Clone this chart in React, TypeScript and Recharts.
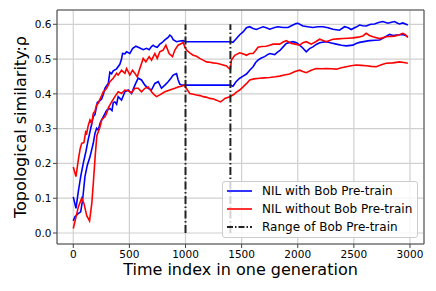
import React from 'react';
import { LineChart, Line, XAxis, YAxis, CartesianGrid, ReferenceLine, Legend } from 'recharts';

// readings: [time index, rho]
const withBobA: [number, number][] = [
  [0, 0.104], [24, 0.071], [45, 0.12], [66, 0.162], [89, 0.2], [113, 0.235], [134, 0.27], [155, 0.3],
  [178, 0.335], [193, 0.34], [214, 0.375], [235, 0.38], [253, 0.385], [270, 0.4], [282, 0.416], [300, 0.425],
  [312, 0.43], [326, 0.462], [342, 0.458], [356, 0.466], [386, 0.472], [415, 0.485], [430, 0.5], [439, 0.516],
  [460, 0.515], [475, 0.521], [504, 0.516], [528, 0.53], [558, 0.537], [593, 0.532], [623, 0.527], [653, 0.531],
  [676, 0.527], [697, 0.536], [712, 0.54], [727, 0.536], [748, 0.534], [771, 0.543], [790, 0.547], [816, 0.555],
  [845, 0.562], [860, 0.569], [875, 0.565], [890, 0.556], [920, 0.55], [950, 0.552], [979, 0.553], [1000, 0.55],
  [1400, 0.55], [1423, 0.548], [1454, 0.559], [1483, 0.57], [1513, 0.578], [1543, 0.59], [1572, 0.593],
  [1602, 0.588], [1632, 0.585], [1660, 0.589], [1691, 0.593], [1720, 0.59], [1750, 0.586], [1795, 0.591],
  [1824, 0.593], [1870, 0.591], [1913, 0.591], [1957, 0.598], [1985, 0.602], [2002, 0.603], [2046, 0.595],
  [2090, 0.593], [2135, 0.591], [2180, 0.593], [2224, 0.593], [2270, 0.59], [2313, 0.586], [2372, 0.583],
  [2417, 0.593], [2450, 0.59], [2476, 0.585], [2520, 0.592], [2551, 0.598], [2580, 0.596], [2610, 0.595],
  [2650, 0.6], [2684, 0.601], [2720, 0.605], [2758, 0.608], [2803, 0.603], [2835, 0.606], [2862, 0.608],
  [2890, 0.603], [2907, 0.601], [2936, 0.604], [2981, 0.598],
];

const withBobB: [number, number][] = [
  [0, 0.035], [15, 0.047], [40, 0.055], [66, 0.061], [83, 0.095], [104, 0.162], [125, 0.195], [149, 0.219],
  [178, 0.258], [193, 0.286], [208, 0.301], [223, 0.296], [238, 0.315], [253, 0.325], [267, 0.334], [297, 0.353],
  [326, 0.358], [345, 0.352], [356, 0.375], [371, 0.377], [386, 0.37], [400, 0.392], [430, 0.382], [460, 0.406],
  [490, 0.411], [519, 0.401], [549, 0.425], [578, 0.445], [608, 0.44], [638, 0.425], [667, 0.416], [697, 0.411],
  [727, 0.43], [757, 0.435], [786, 0.416], [816, 0.425], [845, 0.435], [870, 0.445], [890, 0.454], [920, 0.458],
  [935, 0.44], [949, 0.428], [970, 0.425], [1000, 0.425], [1400, 0.425], [1423, 0.422], [1450, 0.435],
  [1483, 0.445], [1513, 0.451], [1543, 0.457], [1572, 0.468], [1602, 0.478], [1625, 0.49], [1646, 0.497],
  [1675, 0.503], [1705, 0.507], [1728, 0.512], [1750, 0.516], [1795, 0.513], [1820, 0.52], [1839, 0.524],
  [1870, 0.535], [1898, 0.545], [1930, 0.548], [1957, 0.55], [1990, 0.547], [2017, 0.54], [2045, 0.532],
  [2076, 0.521], [2105, 0.53], [2135, 0.535], [2165, 0.542], [2195, 0.547], [2254, 0.55], [2300, 0.546],
  [2343, 0.543], [2390, 0.54], [2432, 0.538], [2491, 0.54], [2520, 0.545], [2551, 0.548], [2600, 0.551],
  [2640, 0.553], [2690, 0.554], [2729, 0.555], [2770, 0.562], [2818, 0.571], [2850, 0.568], [2877, 0.569],
  [2910, 0.57], [2936, 0.571], [2960, 0.568], [2981, 0.564],
];

const withoutBobA: [number, number][] = [
  [0, 0.19], [24, 0.162], [45, 0.21], [60, 0.24], [75, 0.258], [95, 0.26], [110, 0.29], [119, 0.286],
  [134, 0.31], [149, 0.325], [164, 0.315], [178, 0.344], [193, 0.35], [208, 0.368], [223, 0.373], [238, 0.385],
  [253, 0.395], [267, 0.406], [282, 0.41], [297, 0.416], [312, 0.425], [326, 0.435], [356, 0.445], [386, 0.459],
  [400, 0.454], [430, 0.468], [460, 0.459], [475, 0.473], [504, 0.454], [528, 0.468], [549, 0.459], [570, 0.449],
  [593, 0.473], [623, 0.502], [647, 0.492], [676, 0.507], [697, 0.497], [727, 0.516], [748, 0.502], [771, 0.521],
  [801, 0.526], [825, 0.54], [854, 0.516], [884, 0.507], [905, 0.526], [934, 0.54], [964, 0.545], [979, 0.548],
  [994, 0.535], [1009, 0.526], [1038, 0.518], [1068, 0.511], [1098, 0.508], [1127, 0.502], [1157, 0.497],
  [1187, 0.492], [1216, 0.491], [1246, 0.489], [1276, 0.488], [1305, 0.486], [1335, 0.483], [1365, 0.48],
  [1388, 0.473], [1400, 0.47], [1409, 0.497], [1439, 0.511], [1483, 0.518], [1513, 0.515], [1543, 0.511],
  [1572, 0.516], [1602, 0.516], [1625, 0.525], [1646, 0.534], [1680, 0.536], [1720, 0.537], [1750, 0.54],
  [1780, 0.543], [1839, 0.543], [1870, 0.549], [1898, 0.553], [1943, 0.545], [1980, 0.543], [2017, 0.54],
  [2046, 0.547], [2076, 0.55], [2120, 0.543], [2160, 0.55], [2195, 0.557], [2254, 0.55], [2313, 0.557],
  [2360, 0.558], [2402, 0.559], [2450, 0.56], [2491, 0.561], [2540, 0.563], [2580, 0.566], [2610, 0.574],
  [2640, 0.568], [2669, 0.564], [2729, 0.559], [2788, 0.564], [2862, 0.566], [2900, 0.569], [2936, 0.574],
  [2960, 0.57], [2981, 0.562],
];

const withoutBobB: [number, number][] = [
  [0, 0.013], [20, 0.04], [45, 0.075], [75, 0.1], [95, 0.085], [120, 0.05], [145, 0.035], [165, 0.085],
  [180, 0.15], [195, 0.22], [210, 0.28], [238, 0.305], [253, 0.325], [267, 0.33], [282, 0.334], [297, 0.344],
  [312, 0.36], [342, 0.377], [371, 0.392], [400, 0.406], [430, 0.401], [460, 0.411], [490, 0.409], [519, 0.403],
  [549, 0.416], [578, 0.416], [608, 0.406], [638, 0.416], [667, 0.42], [697, 0.406], [720, 0.398], [742, 0.392],
  [771, 0.397], [816, 0.406], [860, 0.411], [905, 0.416], [934, 0.42], [964, 0.422], [990, 0.425], [1003, 0.418],
  [1038, 0.401], [1070, 0.399], [1098, 0.397], [1130, 0.395], [1157, 0.392], [1190, 0.39], [1216, 0.387],
  [1250, 0.385], [1276, 0.382], [1311, 0.377], [1330, 0.381], [1350, 0.387], [1394, 0.392], [1430, 0.398],
  [1454, 0.405], [1483, 0.411], [1513, 0.42], [1545, 0.43], [1572, 0.44], [1610, 0.443], [1661, 0.445],
  [1700, 0.446], [1750, 0.447], [1800, 0.449], [1839, 0.451], [1880, 0.454], [1928, 0.457], [1975, 0.464],
  [2017, 0.468], [2045, 0.464], [2076, 0.461], [2120, 0.468], [2165, 0.473], [2210, 0.472], [2254, 0.473],
  [2300, 0.472], [2343, 0.471], [2390, 0.475], [2432, 0.478], [2475, 0.481], [2521, 0.483], [2565, 0.482],
  [2610, 0.481], [2655, 0.479], [2699, 0.478], [2745, 0.484], [2788, 0.488], [2847, 0.489], [2907, 0.492],
  [2945, 0.49], [2981, 0.488],
];

const pretrainRange = [1000, 1400];
const xTicks = [0, 500, 1000, 1500, 2000, 2500, 3000];
const yTicks = [0, 0.1, 0.2, 0.3, 0.4, 0.5, 0.6];
const legendLabels = ['NIL with Bob Pre-train', 'NIL without Bob Pre-train', 'Range of Bob Pre-train'];

const xDomain: [number, number] = [-145, 3125];
const yDomain: [number, number] = [-0.0316, 0.6411];

const BLUE = '#0000ff';
const RED = '#ff0000';
const font = '"DejaVu Sans", sans-serif';
const dashDot = '8 2.5 1.5 2.5';

const toRows = (pts: [number, number][]) => pts.map(([t, v]) => ({ t, v }));

const legendStyles = [
  { color: BLUE, dash: undefined },
  { color: RED, dash: undefined },
  { color: '#222', dash: '6 2 1.5 2' },
];

const renderLegend = () => (
  <div
    style={{
      position: 'relative',
      width: 196,
      height: 57,
      boxSizing: 'border-box',
      border: '1px solid #cccccc',
      borderRadius: 3,
      background: 'rgba(255,255,255,0.8)',
      fontFamily: font,
      fontSize: 12,
      color: '#000',
    }}
  >
    {legendLabels.map((label, i) => (
      <div
        key={label}
        style={{ position: 'absolute', left: 0, top: i * 18, height: 18, display: 'flex', alignItems: 'center' }}
      >
        <svg width={39} height={18} style={{ display: 'block' }}>
          <line
            x1={4}
            x2={29}
            y1={9}
            y2={9}
            stroke={legendStyles[i].color}
            strokeWidth={legendStyles[i].dash ? 2 : 1.6}
            strokeDasharray={legendStyles[i].dash}
          />
        </svg>
        <span style={{ whiteSpace: 'nowrap' }}>{label}</span>
      </div>
    ))}
  </div>
);

const App: React.FC = () => {
  const series = [
    { key: 'wa', data: toRows(withBobA), color: BLUE },
    { key: 'wb', data: toRows(withBobB), color: BLUE },
    { key: 'na', data: toRows(withoutBobA), color: RED },
    { key: 'nb', data: toRows(withoutBobB), color: RED },
  ];

  return (
    <div style={{ position: 'absolute', left: 0, top: 0, background: '#fff' }}>
      <LineChart width={436} height={291} margin={{ top: 10, right: 12, bottom: 0, left: 0 }}>
        <CartesianGrid stroke="#d0d0d0" strokeWidth={1.2} />
        <XAxis
          dataKey="t"
          type="number"
          domain={xDomain}
          allowDataOverflow
          ticks={xTicks}
          height={47}
          tickSize={4}
          tickMargin={3}
          stroke="#444"
          tick={{ fill: '#000', fontSize: 10.5, fontFamily: font }}
          label={{
            content: (p: any) => (
              <text
                x={p.viewBox.x + p.viewBox.width / 2}
                y={p.viewBox.y + 31}
                textAnchor="middle"
                fontFamily={font}
                fontSize={16}
                fill="#000"
              >
                Time index in one generation
              </text>
            ),
          }}
        />
        <YAxis
          type="number"
          domain={yDomain}
          allowDataOverflow
          ticks={yTicks}
          width={57}
          tickSize={4}
          tickMargin={1.5}
          stroke="#444"
          tickFormatter={(v: number) => v.toFixed(1)}
          tick={{ fill: '#000', fontSize: 10.5, fontFamily: font }}
          label={{
            content: (p: any) => {
              const cy = p.viewBox.y + p.viewBox.height / 2;
              return (
                <text
                  x={26}
                  y={cy}
                  transform={`rotate(-90 26 ${cy})`}
                  textAnchor="middle"
                  fontFamily={font}
                  fontSize={16}
                  fill="#000"
                >
                  Topological similarity:ρ
                </text>
              );
            },
          }}
        />
        {series.map((s) => (
          <Line
            key={s.key}
            data={s.data}
            dataKey="v"
            type="linear"
            stroke={s.color}
            strokeWidth={1.6}
            dot={false}
            activeDot={false}
            isAnimationActive={false}
          />
        ))}
        {pretrainRange.map((x) => (
          <ReferenceLine
            key={x}
            segment={[{ x, y: 0 }, { x, y: 0.6 }]}
            stroke="#222"
            strokeWidth={2}
            strokeDasharray={dashDot}
            ifOverflow="visible"
          />
        ))}
        <ReferenceLine y={yDomain[1]} stroke="#444" ifOverflow="visible" />
        <ReferenceLine x={xDomain[1]} stroke="#444" ifOverflow="visible" />
        <Legend
          layout="vertical"
          align="center"
          verticalAlign="middle"
          content={renderLegend}
          wrapperStyle={{ left: 222, top: 181, width: 196, height: 57 }}
        />
      </LineChart>
    </div>
  );
};

export default App;
